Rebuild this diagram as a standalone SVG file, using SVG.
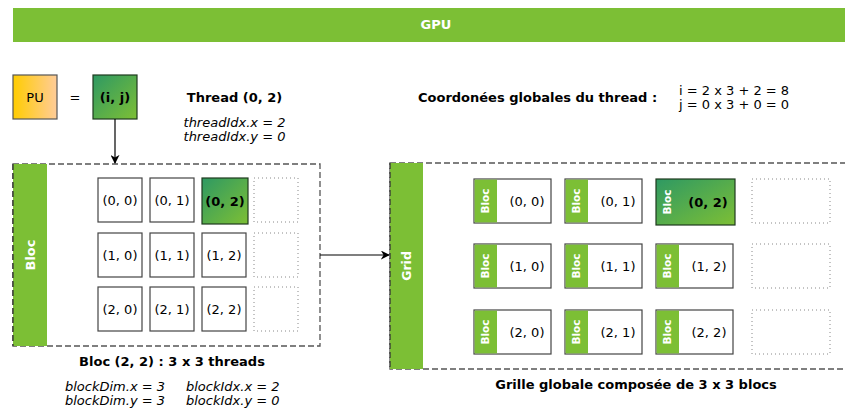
<svg xmlns="http://www.w3.org/2000/svg" width="845" height="410" viewBox="0 0 845 410">
<defs>
<linearGradient id="gGreen" x1="0" y1="0" x2="1" y2="1">
<stop offset="0" stop-color="#2E9963"/>
<stop offset="1" stop-color="#7DBF35"/>
</linearGradient>
<linearGradient id="gPU" x1="0" y1="0" x2="1" y2="0">
<stop offset="0" stop-color="#FFCC00"/>
<stop offset="1" stop-color="#FFCC99"/>
</linearGradient>
<marker id="arr" viewBox="0 0 10 10" refX="9" refY="5" markerWidth="9" markerHeight="9" markerUnits="userSpaceOnUse" orient="auto">
<path d="M0,0 L10,5 L0,10 L3,5 z" fill="#000"/>
</marker>
</defs>
<style>
text{font-family:"DejaVu Sans",Verdana,sans-serif;font-size:13px;fill:#000}
.b{font-weight:bold}
.i{font-style:italic}
.w{fill:#fff;font-weight:bold}
.m{text-anchor:middle}
.cell{fill:#fff;stroke:#444;stroke-width:1.2}
.dot{fill:#fff;stroke:#888;stroke-width:1;stroke-dasharray:1 3}
.cont{fill:#fff;stroke:#555;stroke-width:1.3;stroke-dasharray:6 3}
.strip{fill:#7CBF35}
.hl{fill:url(#gGreen);stroke:#1E3A1E;stroke-width:1.2}
.conn{stroke:#000;stroke-width:1.2;fill:none}
</style>
<g id="gpu">
<rect x="13" y="8" width="845" height="34" class="strip"/>
<text x="436" y="29" class="w m">GPU</text>
</g>
<g id="pu">
<rect x="13" y="75" width="44" height="44" fill="url(#gPU)" stroke="#555" stroke-width="1.2"/>
<text x="35" y="101.5" class="m">PU</text>
</g>
<text x="75" y="101.5" class="m">=</text>
<g id="ij">
<rect x="93" y="75" width="44" height="44" class="hl"/>
<text x="115" y="101.5" class="b m">(i, j)</text>
</g>
<g id="thread-info">
<text x="234.5" y="101.5" class="b m">Thread (0, 2)</text>
<text x="234.5" y="127" class="i m">threadIdx.x = 2</text>
<text x="234.5" y="141" class="i m">threadIdx.y = 0</text>
</g>
<g id="coords">
<text x="418" y="102" class="b">Coordonées globales du thread :</text>
<text x="679" y="95">i = 2 x 3 + 2 = 8</text>
<text x="679" y="109">j = 0 x 3 + 0 = 0</text>
</g>
<g id="bloc">
<rect x="13" y="164" width="307" height="182" class="cont"/>
<rect x="13" y="164" width="34" height="182" class="strip"/>
<line x1="13" y1="164" x2="13" y2="346" stroke="#333" stroke-width="1.3" stroke-dasharray="6 3"/>
<text transform="translate(35,255) rotate(-90)" class="w m">Bloc</text>
<g id="t00"><rect x="98" y="178" width="44" height="44" class="cell"/><text x="120" y="204.5" class="m">(0, 0)</text></g>
<g id="t01"><rect x="150" y="178" width="44" height="44" class="cell"/><text x="172" y="204.5" class="m">(0, 1)</text></g>
<g id="t02"><rect x="202" y="178" width="46" height="46" class="hl"/><text x="225" y="205.5" class="b m">(0, 2)</text></g>
<g id="t03"><rect x="254" y="178" width="44" height="44" class="dot"/></g>
<g id="t10"><rect x="98" y="233" width="44" height="44" class="cell"/><text x="120" y="259.5" class="m">(1, 0)</text></g>
<g id="t11"><rect x="150" y="233" width="44" height="44" class="cell"/><text x="172" y="259.5" class="m">(1, 1)</text></g>
<g id="t12"><rect x="202" y="233" width="44" height="44" class="cell"/><text x="224" y="259.5" class="m">(1, 2)</text></g>
<g id="t13"><rect x="254" y="233" width="44" height="44" class="dot"/></g>
<g id="t20"><rect x="98" y="287" width="44" height="44" class="cell"/><text x="120" y="313.5" class="m">(2, 0)</text></g>
<g id="t21"><rect x="150" y="287" width="44" height="44" class="cell"/><text x="172" y="313.5" class="m">(2, 1)</text></g>
<g id="t22"><rect x="202" y="287" width="44" height="44" class="cell"/><text x="224" y="313.5" class="m">(2, 2)</text></g>
<g id="t23"><rect x="254" y="287" width="44" height="44" class="dot"/></g>
</g>
<g id="bloc-info">
<text x="172" y="366" class="b m">Bloc (2, 2) : 3 x 3 threads</text>
<text x="65" y="391" class="i">blockDim.x = 3</text>
<text x="65" y="405" class="i">blockDim.y = 3</text>
<text x="186" y="391" class="i">blockIdx.x = 2</text>
<text x="186" y="405" class="i">blockIdx.y = 0</text>
</g>
<g id="grid">
<rect x="390" y="163" width="470" height="206" class="cont"/>
<rect x="390" y="163" width="33" height="206" class="strip"/>
<line x1="390" y1="163" x2="390" y2="369" stroke="#333" stroke-width="1.3" stroke-dasharray="6 3"/>
<text transform="translate(411,266) rotate(-90)" class="w m" style="font-size:12.5px">Grid</text>
<g id="b00"><rect x="474" y="179" width="77" height="44" class="cell"/><rect x="474.6" y="179.6" width="22.4" height="42.8" class="strip"/><text transform="translate(489,201) rotate(-90)" class="w m" style="font-size:10.5px">Bloc</text><text x="527" y="205.5" class="m">(0, 0)</text></g>
<g id="b01"><rect x="565" y="179" width="77" height="44" class="cell"/><rect x="565.6" y="179.6" width="22.4" height="42.8" class="strip"/><text transform="translate(580,201) rotate(-90)" class="w m" style="font-size:10.5px">Bloc</text><text x="618" y="205.5" class="m">(0, 1)</text></g>
<g id="b02"><rect x="656" y="179" width="79" height="46" class="hl"/><text transform="translate(671,202) rotate(-90)" class="w m" style="font-size:10.5px">Bloc</text><text x="708" y="206.5" class="b m">(0, 2)</text></g>
<g id="b03"><rect x="752" y="179" width="78" height="44" class="dot"/></g>
<g id="b10"><rect x="474" y="244" width="77" height="44" class="cell"/><rect x="474.6" y="244.6" width="22.4" height="42.8" class="strip"/><text transform="translate(489,266) rotate(-90)" class="w m" style="font-size:10.5px">Bloc</text><text x="527" y="270.5" class="m">(1, 0)</text></g>
<g id="b11"><rect x="565" y="244" width="77" height="44" class="cell"/><rect x="565.6" y="244.6" width="22.4" height="42.8" class="strip"/><text transform="translate(580,266) rotate(-90)" class="w m" style="font-size:10.5px">Bloc</text><text x="618" y="270.5" class="m">(1, 1)</text></g>
<g id="b12"><rect x="656" y="244" width="77" height="44" class="cell"/><rect x="656.6" y="244.6" width="22.4" height="42.8" class="strip"/><text transform="translate(671,266) rotate(-90)" class="w m" style="font-size:10.5px">Bloc</text><text x="709" y="270.5" class="m">(1, 2)</text></g>
<g id="b13"><rect x="752" y="244" width="78" height="44" class="dot"/></g>
<g id="b20"><rect x="474" y="310" width="77" height="44" class="cell"/><rect x="474.6" y="310.6" width="22.4" height="42.8" class="strip"/><text transform="translate(489,332) rotate(-90)" class="w m" style="font-size:10.5px">Bloc</text><text x="527" y="336.5" class="m">(2, 0)</text></g>
<g id="b21"><rect x="565" y="310" width="77" height="44" class="cell"/><rect x="565.6" y="310.6" width="22.4" height="42.8" class="strip"/><text transform="translate(580,332) rotate(-90)" class="w m" style="font-size:10.5px">Bloc</text><text x="618" y="336.5" class="m">(2, 1)</text></g>
<g id="b22"><rect x="656" y="310" width="77" height="44" class="cell"/><rect x="656.6" y="310.6" width="22.4" height="42.8" class="strip"/><text transform="translate(671,332) rotate(-90)" class="w m" style="font-size:10.5px">Bloc</text><text x="709" y="336.5" class="m">(2, 2)</text></g>
<g id="b23"><rect x="752" y="310" width="78" height="44" class="dot"/></g>
</g>
<g id="grid-info">
<text x="636" y="389" class="b m">Grille globale composée de 3 x 3 blocs</text>
</g>
<g id="connectors">
<line x1="115" y1="119" x2="115" y2="163" class="conn" marker-end="url(#arr)"/>
<line x1="320" y1="255" x2="389" y2="255" class="conn" marker-end="url(#arr)"/>
</g>
</svg>
